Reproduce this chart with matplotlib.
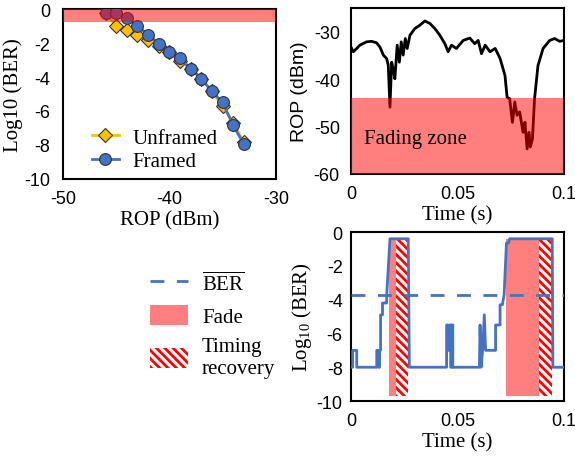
import matplotlib
matplotlib.use("Agg")
import matplotlib.pyplot as plt
from matplotlib.patches import Patch
from matplotlib.lines import Line2D

plt.rcParams['font.family'] = 'Liberation Sans'
plt.rcParams['mathtext.fontset'] = 'custom'
plt.rcParams['mathtext.rm'] = 'Liberation Serif'
plt.rcParams['mathtext.it'] = 'Liberation Serif:italic'
plt.rcParams['hatch.linewidth'] = 2.0
plt.rcParams['axes.unicode_minus'] = False

SERIF = 'Liberation Serif'

# ---- data: BER vs ROP ----
rop_unframed = [-46, -45, -44, -43, -42, -41, -40, -39, -38, -37, -36, -35, -34, -33]
ber_unframed = [-0.2, -1.0, -1.25, -1.5, -1.8, -2.15, -2.55, -3.05, -3.5, -4.1, -4.85, -5.7, -6.7, -7.85]
rop_framed = [-46, -45, -44, -43, -42, -41, -40, -39, -38, -37, -36, -35, -34, -33]
ber_framed = [-0.2, -0.2, -0.5, -1.0, -1.5, -2.05, -2.5, -2.9, -3.5, -4.1, -4.85, -5.5, -6.85, -7.96]
ber_band = (-0.75, 0)

# ---- data: ROP trace over time ----
rop_t = [0.0, 0.0011, 0.0027, 0.0042, 0.0073, 0.0097, 0.0120, 0.0136, 0.0152, 0.0167,
         0.0175, 0.0183, 0.0191, 0.0198, 0.0206, 0.0217, 0.0227, 0.0236, 0.0245, 0.0255,
         0.0264, 0.0277, 0.0300, 0.0323, 0.0347, 0.0370, 0.0394, 0.0417, 0.0441, 0.0456,
         0.0472, 0.0495, 0.0527, 0.0558, 0.0581, 0.0597, 0.0613, 0.0630, 0.0653, 0.0677,
         0.0700, 0.0723, 0.0733, 0.0745, 0.0758, 0.0769, 0.0780, 0.0792, 0.0808, 0.0817,
         0.0827, 0.0836, 0.0842, 0.0852, 0.0862, 0.0878, 0.0902, 0.0933, 0.0956, 0.0980, 0.1]
rop_v = [-33.2, -34.2, -33.5, -32.8, -32.1, -32.0, -32.3, -33.2, -34.9, -35.6,
         -37.0, -45.9, -36.4, -37.8, -39.9, -32.8, -36.4, -32.1, -34.9, -31.4,
         -33.5, -30.7, -29.3, -28.6, -27.7, -28.2, -29.3, -30.7, -32.5, -34.2,
         -32.8, -33.5, -31.8, -31.3, -32.5, -31.8, -34.6, -32.8, -34.2, -33.5,
         -35.6, -39.2, -43.8, -44.1, -49.1, -44.8, -47.6, -46.9, -51.2, -49.1,
         -54.7, -51.2, -54.3, -52.6, -44.1, -37.1, -33.5, -31.8, -31.4, -32.0, -31.8]
fade_level = -44

# ---- data: BER over time ----
ber_t = [0.0, 0.0008, 0.0008, 0.0027, 0.0027, 0.0121, 0.0121, 0.0130, 0.0130, 0.0134,
         0.0134, 0.0139, 0.0139, 0.0148, 0.0148, 0.0167, 0.0168, 0.0183, 0.0269, 0.0274,
         0.0449, 0.0449, 0.0455, 0.0455, 0.0463, 0.0463, 0.0468, 0.0468, 0.0473, 0.0473,
         0.0478, 0.0478, 0.0603, 0.0606, 0.0611, 0.0618, 0.0626, 0.0632, 0.0679, 0.0679,
         0.0700, 0.0700, 0.0711, 0.0719, 0.0730, 0.0740, 0.0745, 0.0945, 0.0948, 0.1]
ber_v = [-8, -8, -7, -7, -8, -8, -7, -7, -8, -8,
         -7, -7, -4.9, -4.9, -4.2, -4.2, -3.7, -0.4, -0.4, -8,
         -8, -5.5, -5.5, -7, -7, -5.5, -5.5, -8, -8, -5.5,
         -5.5, -8, -8, -5.5, -8, -7, -4.9, -7, -7, -5.5,
         -5.5, -4.3, -4.3, -3.7, -0.65, -0.65, -0.4, -0.4, -8, -8]
ber_mean = -3.7
fade_spans = [(0.0178, 0.0210), (0.0726, 0.0883)]
recovery_spans = [(0.0210, 0.0269), (0.0883, 0.0945)]
span_range = (-9.7, -0.4)

BLUE = '#4472C4'
GOLD = '#FFC000'

fig = plt.figure(figsize=(5.75, 4.6), dpi=100)
ax1 = fig.add_axes([0.1096, 0.609, 0.370, 0.369])
ax2 = fig.add_axes([0.6104, 0.6196, 0.3704, 0.3604])
ax3 = fig.add_axes([0.6104, 0.126, 0.3704, 0.3674])

for ax in (ax1, ax2, ax3):
    for s in ax.spines.values():
        s.set_color('black')
        s.set_linewidth(1.5)
    ax.tick_params(length=0, labelsize=13, pad=8)
ax1.tick_params(axis='y', pad=9)
ax3.tick_params(axis='y', pad=6)

# ---- ax1 ----
ax1.plot(rop_unframed, ber_unframed, color=GOLD, lw=2, marker='D', ms=7,
         mfc=GOLD, mec='#333333', mew=0.8, label='Unframed', zorder=3)
ax1.plot(rop_framed, ber_framed, color=BLUE, lw=2, marker='o', ms=8.5,
         mfc=BLUE, mec='#333333', mew=0.8, label='Framed', zorder=4)
ax1.axhspan(ber_band[0], ber_band[1], color='red', alpha=0.5, lw=0, zorder=5)
ax1.set_xlim(-50, -30)
ax1.set_ylim(-10, 0)
ax1.set_xticks([-50, -40, -30])
ax1.set_yticks([0, -2, -4, -6, -8, -10])
ax1.set_xlabel('ROP (dBm)', fontfamily=SERIF, fontsize=15, labelpad=2)
ax1.set_ylabel('Log10 (BER)', fontfamily=SERIF, fontsize=15, labelpad=1)
ax1.legend(loc='upper left', bbox_to_anchor=(0.136, 0.30), frameon=False,
           prop={'family': SERIF, 'size': 15}, handlelength=1.3,
           labelspacing=0.2, handletextpad=0.65, borderpad=0, borderaxespad=0)

# ---- ax2 ----
ax2.plot(rop_t, rop_v, color='black', lw=2, zorder=3)
ax2.axhspan(-60, fade_level, color='red', alpha=0.5, lw=0, zorder=4)
ax2.text(0.006, -52.5, 'Fading zone', fontfamily=SERIF, fontsize=15,
         va='center', ha='left', zorder=5)
ax2.set_xlim(0, 0.1)
ax2.set_ylim(-60, -25)
ax2.set_xticks([0, 0.05, 0.1])
ax2.set_xticklabels(['0', '0.05', '0.1'])
ax2.set_yticks([-30, -40, -50, -60])
ax2.set_xlabel('Time (s)', fontfamily=SERIF, fontsize=15, labelpad=2)
ax2.set_ylabel('ROP (dBm)', fontsize=14, labelpad=4)

# ---- ax3 ----
for a, b in fade_spans:
    ax3.fill_between([a, b], span_range[0], span_range[1], color='#FF7F7F', lw=0, zorder=1)
for a, b in recovery_spans:
    ax3.fill_between([a, b], span_range[0], span_range[1], facecolor='white',
                     edgecolor='red', hatch='\\\\\\\\', lw=0, zorder=1)
ax3.plot(ber_t, ber_v, color=BLUE, lw=2, zorder=3)
ax3.axhline(ber_mean, color=BLUE, lw=2, ls=(0, (5, 4.5)), zorder=3)
ax3.set_xlim(0, 0.1)
ax3.set_ylim(-10, 0)
ax3.set_xticks([0, 0.05, 0.1])
ax3.set_xticklabels(['0', '0.05', '0.1'])
ax3.set_yticks([0, -2, -4, -6, -8, -10])
ax3.set_xlabel('Time (s)', fontfamily=SERIF, fontsize=15, labelpad=2)
ax3.set_ylabel('Log$_{10}$ (BER)', fontfamily=SERIF, fontsize=15, labelpad=2)

handles = [
    Line2D([0], [0], color=BLUE, lw=2, ls=(0, (5, 4.5))),
    Patch(facecolor='#FF7F7F', edgecolor='none'),
    Patch(facecolor='white', edgecolor='red', hatch='\\\\\\\\', lw=0),
]
labels = [r'$\overline{\mathrm{BER}}$', 'Fade', 'Timing\nrecovery']
fig.legend(handles, labels, loc='upper left', bbox_to_anchor=(150 / 575, 1 - 272 / 460),
           frameon=False, prop={'family': SERIF, 'size': 15}, handlelength=1.8,
           handleheight=1.1, labelspacing=0.5, handletextpad=0.7,
           borderpad=0, borderaxespad=0)

fig.savefig('out.png', dpi=100)
